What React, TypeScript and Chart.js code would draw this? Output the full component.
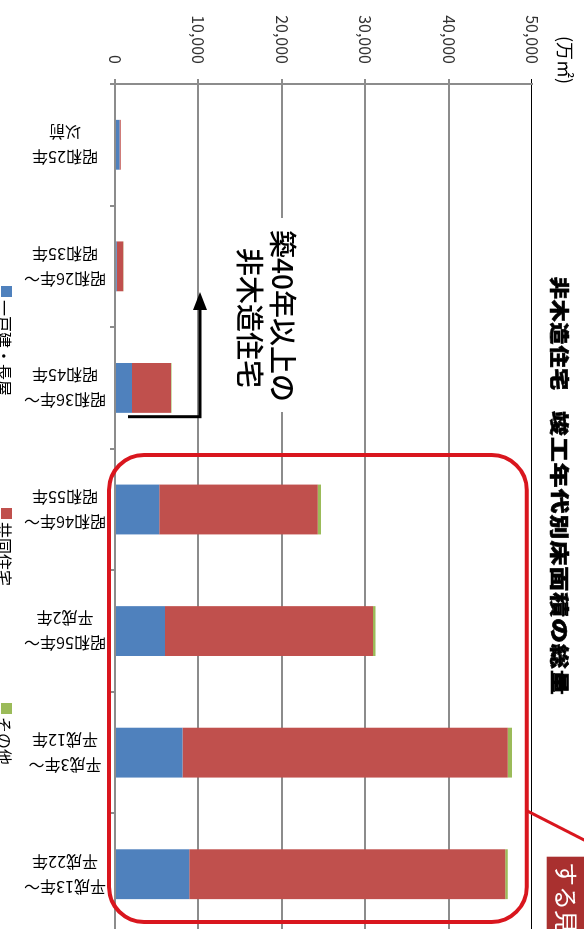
import React, { useEffect, useRef } from "react";
import { Chart, registerables } from "chart.js";

Chart.register(...registerables);

// ---- data ----
const categories: string[][] = [
  ["昭和25年", "以前"],
  ["昭和26年～", "昭和35年"],
  ["昭和36年～", "昭和45年"],
  ["昭和46年～", "昭和55年"],
  ["昭和56年～", "平成2年"],
  ["平成3年～", "平成12年"],
  ["平成13年～", "平成22年"],
];
const seriesNames = ["一戸建・長屋", "共同住宅", "その他"];
const detachedValues = [550, 200, 2050, 5300, 6000, 8100, 8900];
const apartmentValues = [150, 800, 4650, 19000, 24950, 39000, 37900];
const otherValues = [0, 20, 60, 400, 300, 500, 300];
const valueTicks = [0, 10000, 20000, 30000, 40000, 50000];
const titleParts = ["非木造住宅", "竣工年代別床面積の総量"];
const unitLabel = "(万㎡)";
const noteLines = ["築40年以上の", "非木造住宅"];
const calloutText = "する見";

const COLORS = ["#4F81BD", "#C0504D", "#9BBB59"];
const GRID = "#8c8c8c";
const FONT = '"Noto Sans CJK JP", "Noto Sans", sans-serif';

const W = 940;
const H = 584;

const fmt = (v: number) => String(v).replace(/\B(?=(\d{3})+(?!\d))/g, ",");

const overlay = {
  id: "overlay",
  afterDraw(chart: any) {
    const ctx: CanvasRenderingContext2D = chart.ctx;
    const xs = chart.scales.x;
    ctx.save();

    // category labels (rotated, two lines)
    ctx.fillStyle = "#000";
    ctx.font = `16px ${FONT}`;
    ctx.textAlign = "center";
    ctx.textBaseline = "middle";
    categories.forEach((lines, i) => {
      const px = xs.getPixelForValue(i);
      ctx.save();
      ctx.translate(px, 519);
      ctx.rotate(Math.PI / 2);
      const lh = 25;
      lines.forEach((ln, j) => {
        ctx.fillText(ln, 0, (j - (lines.length - 1) / 2) * lh);
      });
      ctx.restore();
    });

    // legend
    const legendX = [286, 508, 703];
    ctx.textAlign = "left";
    ctx.font = `16px ${FONT}`;
    seriesNames.forEach((name, i) => {
      ctx.fillStyle = COLORS[i];
      ctx.fillRect(legendX[i], 572, 11, 11);
      ctx.fillStyle = "#000";
      ctx.fillText(name, legendX[i] + 14, 580);
    });

    // title (glyph by glyph, slightly widened heavy glyphs)
    ctx.font = `900 19px ${FONT}`;
    ctx.fillStyle = "#000";
    const drawSpaced = (s: string, x0: number, adv: number, sx: number) => {
      Array.from(s).forEach((ch, k) => {
        ctx.save();
        ctx.translate(x0 + k * adv, 25);
        ctx.scale(sx, 1);
        ctx.fillText(ch, 0, 0);
        ctx.strokeStyle = "#000";
        ctx.lineWidth = 0.6;
        ctx.strokeText(ch, 0, 0);
        ctx.restore();
      });
    };
    drawSpaced(titleParts[0], 277, 22.8, 1.15);
    drawSpaced(titleParts[1], 411, 25.9, 1.3);

    // unit
    ctx.font = `18px ${FONT}`;
    ctx.textAlign = "center";
    ctx.fillText(unitLabel, 60, 19);

    // note box
    ctx.fillStyle = "#fff";
    ctx.fillRect(218, 284, 194, 67);
    ctx.fillStyle = "#000";
    ctx.font = `500 28px ${FONT}`;
    ctx.fillText(noteLines[0], 316, 301);
    ctx.fillText(noteLines[1], 318, 334);

    // arrow
    ctx.strokeStyle = "#000";
    ctx.lineWidth = 3;
    ctx.beginPath();
    ctx.moveTo(416.7, 456);
    ctx.lineTo(416.7, 384);
    ctx.lineTo(306, 384);
    ctx.stroke();
    ctx.fillStyle = "#000";
    ctx.beginPath();
    ctx.moveTo(292, 384);
    ctx.lineTo(310, 377);
    ctx.lineTo(310, 391);
    ctx.closePath();
    ctx.fill();

    // red rounded rectangle
    ctx.strokeStyle = "#d9161e";
    ctx.lineWidth = 4;
    ctx.beginPath();
    (ctx as any).roundRect(455, 57.3, 467, 417.7, 35);
    ctx.stroke();

    // connector
    ctx.lineWidth = 3;
    ctx.beginPath();
    ctx.moveTo(810.7, 57.3);
    ctx.lineTo(843, -6);
    ctx.stroke();

    // callout box
    ctx.fillStyle = "#a9302f";
    ctx.fillRect(856.7, -5, 100, 42.3);
    ctx.fillStyle = "#fff";
    ctx.textAlign = "left";
    ctx.font = `24px ${FONT}`;
    ctx.fillText(calloutText, 862, 18);

    ctx.restore();
  },
};

export default function App() {
  const ref = useRef<HTMLCanvasElement | null>(null);

  useEffect(() => {
    if (!ref.current) return;
    const chart = new Chart(ref.current, {
      type: "bar",
      data: {
        labels: categories.map((c) => c.join(" ")),
        datasets: [
          { label: seriesNames[0], data: detachedValues, backgroundColor: COLORS[0] },
          { label: seriesNames[1], data: apartmentValues, backgroundColor: COLORS[1] },
          { label: seriesNames[2], data: otherValues, backgroundColor: COLORS[2] },
        ],
      },
      options: {
        responsive: false,
        animation: false,
        devicePixelRatio: 1,
        events: [],
        layout: { padding: { left: 0, top: 52, right: 5, bottom: 0 } },
        datasets: { bar: { categoryPercentage: 1, barPercentage: 0.41 } } as any,
        plugins: {
          legend: { display: false },
          title: { display: false },
          tooltip: { enabled: false },
        },
        scales: {
          x: {
            stacked: true,
            grid: {
              offset: true,
              drawOnChartArea: false,
              drawTicks: true,
              tickLength: 5,
              color: GRID,
              lineWidth: 2,
            },
            border: { display: true, color: GRID, width: 2 },
            ticks: { display: false },
            afterFit: (s: any) => {
              s.height = 115;
            },
          },
          y: {
            stacked: true,
            min: valueTicks[0],
            max: valueTicks[valueTicks.length - 1],
            afterBuildTicks: (s: any) => {
              s.ticks = valueTicks.map((v) => ({ value: v }));
            },
            ticks: {
              padding: 15,
              color: "#333",
              font: { family: FONT, size: 16 },
              callback: (v: any) => fmt(Number(v)),
            },
            grid: {
              color: (c: any) =>
                c.tick && c.tick.value === valueTicks[valueTicks.length - 1] ? "#000" : GRID,
              lineWidth: (c: any) =>
                c.tick && c.tick.value === valueTicks[valueTicks.length - 1] ? 1 : 2,
              tickLength: 5,
            },
            border: { display: true, color: GRID, width: 2 },
            afterFit: (s: any) => {
              s.width = 84;
            },
          },
        },
      },
      plugins: [overlay],
    });
    return () => chart.destroy();
  }, []);

  return (
    <div
      style={{
        position: "fixed",
        left: 0,
        top: 0,
        width: 584,
        height: 929,
        overflow: "hidden",
        background: "#fff",
      }}
    >
      <div
        style={{
          position: "absolute",
          left: 0,
          top: 0,
          width: W,
          height: H,
          transformOrigin: "0 0",
          transform: "translate(584px, 0) rotate(90deg)",
        }}
      >
        <canvas ref={ref} width={W} height={H} style={{ display: "block", width: W, height: H }} />
      </div>
    </div>
  );
}
